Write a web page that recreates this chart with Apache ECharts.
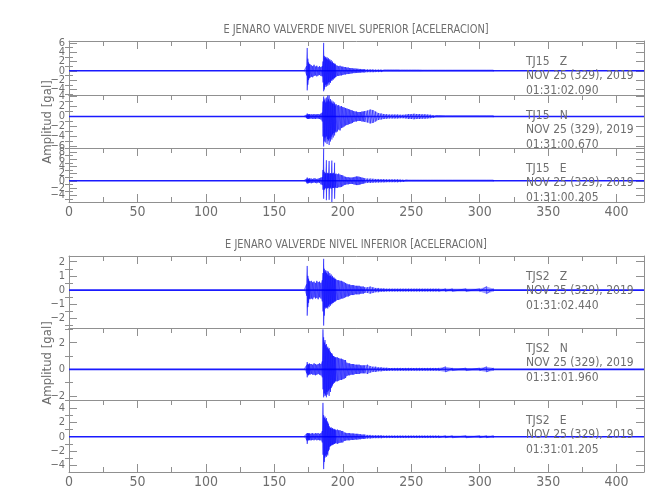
<!DOCTYPE html>
<html><head><meta charset="utf-8">
<script src="https://cdn.jsdelivr.net/npm/echarts@6/dist/echarts.min.js"></script>
<style>html,body{margin:0;padding:0;background:#fff}#c{width:650px;height:500px}</style>
</head><body><div id="c"></div><script>
// ---- data ----
const xMin = 0, xMax = 420;
const envTime = [172,173.5,174,174.5,175,175.5,176,
 177,178,179,180,181,182,183,184,185,
 185.5,186,186.5,187,187.5,188,188.5,189,189.5,190,190.5,191,191.5,192,192.5,193,193.5,194,194.5,195,
 196,197,198,199,200,201,202,203,204,205,206,207,208,209,210,211,212,213,214,215,216,
 218,220,222,224,226,228,230,232,234,236,238,240,242,244,246,248,250,252,254,256,258,260,262,264,266,268,270,
 275,280,290,300,305,310];

const supZHi = [0.15,1.0,4.9,2.6,1.8,1.5,1.4,
 1.2,1.0,1.3,0.9,1.1,0.8,1.0,0.8,1.0,
 2.0,6.0,3.2,2.8,3.0,2.6,2.9,2.4,2.7,2.2,2.5,2.0,2.3,1.8,2.0,1.6,1.7,1.4,1.5,1.2,
 1.1,1.0,1.1,0.9,0.9,0.8,0.8,0.7,0.7,0.6,0.6,0.55,0.5,0.5,0.45,0.45,0.4,0.4,0.35,0.35,0.35,
 0.3,0.3,0.3,0.25,0.25,0.25,0.2,0.2,0.2,0.2,0.2,0.2,0.18,0.18,0.18,0.18,0.18,0.18,0.18,0.18,0.15,0.15,0.15,0.15,0.15,0.15,0.15,
 0.15,0.15,0.15,0.15,0.15,0.15];
const supZLo = [-0.15,-1.0,-4.2,-3.0,-2.0,-1.6,-1.5,
 -1.3,-1.4,-1.1,-1.0,-1.2,-1.0,-0.9,-1.1,-1.2,
 -2.5,-4.4,-4.0,-3.5,-3.0,-3.4,-2.8,-3.2,-2.5,-3.0,-2.4,-2.6,-2.0,-2.2,-1.8,-1.9,-1.6,-1.6,-1.4,-1.3,
 -1.1,-1.1,-1.0,-1.0,-0.9,-0.8,-0.8,-0.7,-0.7,-0.65,-0.6,-0.55,-0.5,-0.5,-0.45,-0.45,-0.4,-0.4,-0.35,-0.35,-0.35,
 -0.3,-0.3,-0.3,-0.25,-0.25,-0.25,-0.2,-0.2,-0.2,-0.2,-0.2,-0.2,-0.18,-0.18,-0.18,-0.18,-0.18,-0.18,-0.18,-0.18,-0.15,-0.15,-0.15,-0.15,-0.15,-0.15,-0.15,
 -0.15,-0.15,-0.15,-0.15,-0.15,-0.15];

const supNHi = [0.15,0.3,0.6,0.45,0.4,0.5,0.4,
 0.45,0.4,0.5,0.4,0.45,0.5,0.4,0.6,0.8,
 3.0,4.0,3.2,3.6,2.8,3.8,3.0,4.2,3.4,4.2,3.0,3.5,2.8,3.2,2.6,3.0,2.5,2.8,2.2,2.5,
 2.2,2.3,2.0,2.1,1.9,1.8,1.7,1.6,1.5,1.4,1.3,1.2,1.1,1.0,1.0,0.9,0.9,0.9,1.0,1.0,1.1,
 1.2,1.4,1.3,1.0,0.7,0.6,0.5,0.45,0.4,0.4,0.4,0.4,0.35,0.35,0.4,0.5,0.5,0.55,0.5,0.5,0.45,0.45,0.4,0.35,0.25,0.2,0.2,
 0.15,0.15,0.15,0.15,0.15,0.15];
const supNLo = [-0.15,-0.3,-0.5,-0.45,-0.5,-0.4,-0.45,
 -0.4,-0.5,-0.45,-0.5,-0.4,-0.45,-0.5,-0.6,-1.0,
 -4.0,-6.0,-5.0,-4.2,-5.2,-4.0,-5.5,-4.5,-4.8,-5.7,-4.4,-5.0,-4.0,-4.6,-3.6,-4.2,-3.3,-3.8,-3.0,-3.2,
 -3.0,-2.6,-2.8,-2.3,-2.2,-2.0,-1.8,-1.7,-1.6,-1.5,-1.4,-1.3,-1.1,-1.0,-1.0,-0.9,-0.9,-0.9,-1.0,-1.0,-1.1,
 -1.2,-1.4,-1.3,-1.0,-0.7,-0.6,-0.5,-0.45,-0.4,-0.4,-0.4,-0.4,-0.35,-0.35,-0.4,-0.5,-0.5,-0.55,-0.5,-0.5,-0.45,-0.45,-0.4,-0.35,-0.25,-0.2,-0.2,
 -0.15,-0.15,-0.15,-0.15,-0.15,-0.15];

const supEHi = [0.2,0.5,0.9,0.6,0.5,0.7,0.6,
 0.6,0.5,0.7,0.6,0.5,0.6,0.7,0.9,1.0,
 3.0,8.9,2.5,2.0,2.2,5.7,2.0,2.2,2.0,5.5,2.0,2.1,2.0,5.6,2.0,2.2,2.0,5.0,1.8,2.0,
 1.8,2.0,1.7,1.6,1.5,1.2,1.1,1.0,1.0,0.9,0.9,0.9,1.0,1.1,1.2,1.2,1.1,1.0,0.9,0.8,0.7,
 0.6,0.6,0.55,0.5,0.5,0.45,0.45,0.4,0.4,0.4,0.4,0.4,0.35,0.3,0.25,0.2,0.2,0.2,0.2,0.2,0.2,0.2,0.2,0.2,0.2,0.2,0.2,
 0.2,0.2,0.2,0.2,0.2,0.2];
const supELo = [-0.2,-0.5,-0.8,-0.6,-0.7,-0.5,-0.6,
 -0.7,-0.6,-0.5,-0.6,-0.7,-0.5,-0.6,-1.0,-1.2,
 -2.5,-5.0,-2.5,-2.2,-2.0,-5.4,-2.2,-2.0,-2.0,-5.3,-2.2,-1.9,-2.2,-5.9,-2.0,-2.0,-2.0,-5.0,-1.8,-2.0,
 -2.0,-1.8,-1.8,-1.7,-1.5,-1.2,-1.1,-1.0,-1.0,-0.9,-0.9,-0.9,-1.0,-1.1,-1.2,-1.2,-1.1,-1.0,-0.9,-0.8,-0.7,
 -0.6,-0.6,-0.55,-0.5,-0.5,-0.45,-0.45,-0.4,-0.4,-0.4,-0.4,-0.4,-0.35,-0.3,-0.25,-0.2,-0.2,-0.2,-0.2,-0.2,-0.2,-0.2,-0.2,-0.2,-0.2,-0.2,-0.2,
 -0.2,-0.2,-0.2,-0.2,-0.2,-0.2];

const infZHi = [0.05,0.4,1.7,1.0,0.8,0.65,0.6,
 0.65,0.55,0.6,0.5,0.65,0.55,0.6,0.5,0.7,
 1.2,2.2,1.5,1.3,1.4,1.2,1.35,1.1,1.3,1.0,1.2,1.0,1.1,0.9,1.0,0.85,0.9,0.8,0.8,0.75,
 0.7,0.7,0.65,0.65,0.6,0.55,0.5,0.45,0.4,0.4,0.35,0.35,0.35,0.3,0.3,0.3,0.3,0.25,0.25,0.25,0.2,
 0.2,0.25,0.2,0.15,0.15,0.12,0.12,0.1,0.1,0.1,0.1,0.1,0.1,0.1,0.1,0.1,0.1,0.1,0.1,0.1,0.1,0.1,0.1,0.1,0.1,0.1,0.1,
 0.1,0.1,0.1,0.1,0.25,0.1];
const infZLo = [-0.05,-0.4,-1.8,-1.2,-0.9,-0.6,-0.65,
 -0.6,-0.65,-0.5,-0.6,-0.55,-0.65,-0.5,-0.6,-0.8,
 -1.5,-2.5,-1.8,-1.2,-1.3,-1.25,-1.2,-1.3,-1.1,-1.2,-1.0,-1.1,-0.95,-1.0,-0.9,-0.9,-0.85,-0.8,-0.8,-0.75,
 -0.7,-0.7,-0.65,-0.6,-0.6,-0.55,-0.5,-0.45,-0.45,-0.4,-0.35,-0.35,-0.35,-0.3,-0.3,-0.3,-0.3,-0.25,-0.25,-0.25,-0.2,
 -0.2,-0.25,-0.2,-0.15,-0.15,-0.12,-0.12,-0.1,-0.1,-0.1,-0.1,-0.1,-0.1,-0.1,-0.1,-0.1,-0.1,-0.1,-0.1,-0.1,-0.1,-0.1,-0.1,-0.1,-0.1,-0.1,-0.1,
 -0.1,-0.1,-0.1,-0.1,-0.25,-0.1];

const infNHi = [0.05,0.3,0.55,0.4,0.35,0.45,0.4,
 0.4,0.35,0.45,0.4,0.35,0.4,0.45,0.4,0.6,
 3.0,2.4,2.0,2.2,1.8,1.9,1.6,1.7,1.5,1.6,1.4,1.3,1.2,1.2,1.1,1.0,1.0,0.9,0.9,0.9,
 0.9,0.85,0.8,0.8,0.75,0.7,0.7,0.5,0.45,0.45,0.4,0.4,0.4,0.35,0.35,0.35,0.35,0.3,0.3,0.3,0.3,
 0.35,0.25,0.2,0.2,0.15,0.15,0.12,0.12,0.1,0.1,0.1,0.1,0.1,0.1,0.1,0.1,0.1,0.1,0.1,0.1,0.1,0.1,0.1,0.1,0.1,0.1,0.1,
 0.2,0.1,0.1,0.1,0.2,0.1];
const infNLo = [-0.05,-0.3,-0.6,-0.4,-0.45,-0.35,-0.4,
 -0.35,-0.4,-0.4,-0.45,-0.4,-0.35,-0.4,-0.45,-0.6,
 -1.5,-2.1,-1.8,-2.0,-1.9,-2.1,-1.7,-1.9,-1.6,-2.0,-1.5,-1.7,-1.4,-1.3,-1.2,-1.1,-1.0,-1.0,-0.9,-0.9,
 -0.9,-0.85,-0.8,-0.8,-0.75,-0.7,-0.65,-0.5,-0.45,-0.45,-0.4,-0.4,-0.4,-0.35,-0.35,-0.35,-0.35,-0.3,-0.3,-0.3,-0.3,
 -0.35,-0.25,-0.2,-0.2,-0.15,-0.15,-0.12,-0.12,-0.1,-0.1,-0.1,-0.1,-0.1,-0.1,-0.1,-0.1,-0.1,-0.1,-0.1,-0.1,-0.1,-0.1,-0.1,-0.1,-0.1,-0.1,-0.1,
 -0.2,-0.1,-0.1,-0.1,-0.2,-0.1];

const infEHi = [0.1,0.4,0.5,0.5,0.45,0.5,0.4,
 0.45,0.5,0.4,0.5,0.45,0.5,0.4,0.5,0.8,
 4.7,3.0,2.6,2.8,2.4,2.6,2.2,2.0,1.8,1.5,1.3,1.2,1.3,1.1,1.2,1.0,1.1,1.0,1.0,0.9,
 1.0,0.9,0.9,0.8,0.8,0.6,0.55,0.5,0.5,0.5,0.45,0.45,0.45,0.4,0.4,0.4,0.35,0.35,0.3,0.3,0.3,
 0.25,0.25,0.2,0.2,0.2,0.2,0.15,0.15,0.15,0.15,0.15,0.15,0.15,0.15,0.15,0.15,0.15,0.15,0.15,0.15,0.15,0.15,0.15,0.15,0.15,0.15,0.15,
 0.15,0.15,0.15,0.15,0.15,0.15];
const infELo = [-0.1,-0.5,-1.0,-0.5,-0.5,-0.45,-0.5,
 -0.5,-0.45,-0.5,-0.4,-0.5,-0.45,-0.5,-0.5,-0.8,
 -2.5,-4.5,-3.5,-2.9,-2.6,-2.8,-2.4,-2.6,-2.0,-1.8,-1.4,-1.3,-1.2,-1.2,-1.1,-1.1,-1.0,-1.0,-0.9,-0.9,
 -1.0,-0.9,-0.85,-0.8,-0.8,-0.6,-0.55,-0.5,-0.5,-0.5,-0.45,-0.45,-0.45,-0.4,-0.4,-0.4,-0.35,-0.35,-0.3,-0.3,-0.3,
 -0.25,-0.25,-0.2,-0.2,-0.2,-0.2,-0.15,-0.15,-0.15,-0.15,-0.15,-0.15,-0.15,-0.15,-0.15,-0.15,-0.15,-0.15,-0.15,-0.15,-0.15,-0.15,-0.15,-0.15,-0.15,-0.15,-0.15,
 -0.15,-0.15,-0.15,-0.15,-0.15,-0.15];

const groupTitles = ["E JENARO VALVERDE NIVEL SUPERIOR [ACELERACION]", "E JENARO VALVERDE NIVEL INFERIOR [ACELERACION]"];
const yAxisName = "Amplitud [gal]";
const stationLabels = ["TJ15   Z","TJ15   N","TJ15   E","TJS2   Z","TJS2   N","TJS2   E"];
const dateLabel = "NOV 25 (329), 2019";
const startTimes = ["01:31:02.090","01:31:00.670","01:31:00.205","01:31:02.440","01:31:01.960","01:31:01.205"];
const yMins = [-5.2,-6.3,-5.9,-2.67,-2.3,-4.9];
const yMaxs = [6.4,4.3,9.1,2.4,3.1,5.1];
const yMajor = [[-4,-2,0,2,4,6],[-6,-4,-2,0,2,4],[-4,-2,0,2,4,6,8],[-2,-1,0,1,2],[-2,0,2],[-4,-2,0,2,4]];
const yMinor = [[-5,-3,-1,1,3,5],[-5,-3,-1,1,3],[-5,-3,-1,1,3,5,7,9],[-2.5,-1.5,-0.5,0.5,1.5],[-1,1,3],[-3,-1,1,3,5]];
const his = [supZHi,supNHi,supEHi,infZHi,infNHi,infEHi];
const los = [supZLo,supNLo,supELo,infZLo,infNLo,infELo];

// ---- layout ----
const panelTop = [41,95,148,256,328,400];
const panelH = [54,53,54,72,72,72];
const gridLeft = 69, gridWidth = 575;
const AX = '#909090', TX = '#6e6e6e';
const FONT = "'Liberation Sans Narrow','DejaVu Sans Condensed',sans-serif";
const fmtMinus = v => String(v).replace('-', '\u2212');

const grid = [], xAxis = [], yAxis = [], series = [], graphic = [];
for (let p = 0; p < 6; p++) {
  grid.push({left: gridLeft, width: gridWidth, top: panelTop[p], height: panelH[p], show:false});
  const last = (p === 2 || p === 5);
  xAxis.push({type:'value', gridIndex:p, min:xMin, max:xMax, interval:50, position:'bottom',
    axisLine:{show:true, onZero:false, lineStyle:{color:AX, width:1}},
    axisTick:{show:last, inside:true, length:8, lineStyle:{color:AX}},
    minorTick:{show:last, splitNumber:2, length:5, lineStyle:{color:AX}},
    axisLabel:{show:last, color:TX, fontSize:14, fontFamily:FONT, margin:3, showMaxLabel:false},
    splitLine:{show:false}});
  xAxis.push({type:'value', gridIndex:p, min:xMin, max:xMax, interval:50, position:'top',
    axisLine:{show:true, onZero:false, lineStyle:{color:AX, width:1}},
    axisTick:{show:true, inside:true, length:8, lineStyle:{color:AX}},
    minorTick:{show:true, splitNumber:2, length:5, lineStyle:{color:AX}},
    axisLabel:{show:false}, splitLine:{show:false}});
  const base = {type:'value', gridIndex:p, min:yMins[p], max:yMaxs[p], splitLine:{show:false}, axisLabel:{show:false}};
  yAxis.push(Object.assign({}, base, {position:'left',
    axisLine:{show:true, onZero:false, lineStyle:{color:AX}},
    axisTick:{show:true, inside:true, length:8, customValues:yMajor[p], lineStyle:{color:AX}}}));
  yAxis.push(Object.assign({}, base, {position:'left',
    axisLine:{show:false},
    axisTick:{show:true, inside:true, length:4, customValues:yMinor[p], lineStyle:{color:AX}}}));
  yAxis.push(Object.assign({}, base, {position:'right',
    axisLine:{show:true, onZero:false, lineStyle:{color:AX}},
    axisTick:{show:true, inside:true, length:8, customValues:yMajor[p], lineStyle:{color:AX}}}));
  yAxis.push(Object.assign({}, base, {position:'right',
    axisLine:{show:false},
    axisTick:{show:true, inside:true, length:4, customValues:yMinor[p], lineStyle:{color:AX}}}));

  series.push({type:'line', xAxisIndex:2*p, yAxisIndex:4*p, data:[[xMin,0],[xMax,0]],
    symbol:'none', silent:true, animation:false, lineStyle:{color:'#1a1aff', width:1.6}, z:2});
  const hi = his[p], lo = los[p];
  const band = [];
  for (let i = 0; i + 1 < envTime.length; i++) band.push([envTime[i], hi[i], lo[i], envTime[i+1], hi[i+1], lo[i+1]]);
  series.push({type:'custom', xAxisIndex:2*p, yAxisIndex:4*p, data:band, silent:true, animation:false, z:3,
    encode:{x:[0,3], y:[1,2,4,5]},
    renderItem:(params, api) => {
      const a = api.coord([api.value(0), api.value(1)]);
      const b = api.coord([api.value(3), api.value(4)]);
      const c = api.coord([api.value(3), api.value(5)]);
      const e = api.coord([api.value(0), api.value(2)]);
      return {type:'polygon', shape:{points:[a,b,c,e]}, style:{fill:'rgba(40,40,255,0.45)', stroke:null}};
    }});
  const d = [];
  for (let i = 0; i < envTime.length; i++) { d.push([envTime[i], hi[i]]); d.push([envTime[i], lo[i]]); }
  series.push({type:'line', xAxisIndex:2*p, yAxisIndex:4*p, data:d, symbol:'none', silent:true,
    animation:false, sampling:null, lineStyle:{color:'rgba(0,0,255,0.8)', width:0.6}, z:4});

  [stationLabels[p], dateLabel, startTimes[p]].forEach((s, k) => {
    graphic.push({type:'text', x:526, y:panelTop[p] + 21 + k*14.2, z:10,
      style:{text:s, fill:TX, font:'12px ' + FONT, align:'left', verticalAlign:'middle',
             textAlign:'left', textVerticalAlign:'middle'}});
  });
}
const titleY = [30, 245];
const nameY = [122, 363];
for (let g = 0; g < 2; g++) {
  graphic.push({type:'text', x:356, y:titleY[g], scaleX:0.84, z:10,
    style:{text:groupTitles[g], fill:TX, font:'13px ' + FONT, align:'center', verticalAlign:'middle',
           textAlign:'center', textVerticalAlign:'middle'}});
  graphic.push({type:'text', x:48, y:nameY[g], rotation:Math.PI/2, z:10,
    style:{text:yAxisName, fill:TX, font:'13px ' + FONT, align:'center', verticalAlign:'middle',
           textAlign:'center', textVerticalAlign:'middle'}});
}

const chart = echarts.init(document.getElementById('c'), null, {renderer:'canvas'});
chart.setOption({animation:false, backgroundColor:'#fff', grid, xAxis, yAxis, series, graphic});

// y tick labels: placed through the axis scale (all shown, overlapping as in the original)
const labels = [];
for (let p = 0; p < 6; p++) {
  yMajor[p].forEach(v => {
    const py = chart.convertToPixel({yAxisIndex: 4*p}, v);
    labels.push({type:'text', x:gridLeft - 4, y:py, z:10,
      style:{text:fmtMinus(v), fill:TX, font:'11px ' + FONT, align:'right', verticalAlign:'middle',
             textAlign:'right', textVerticalAlign:'middle'}});
  });
}
chart.setOption({graphic: graphic.concat(labels)});
</script></body></html>
